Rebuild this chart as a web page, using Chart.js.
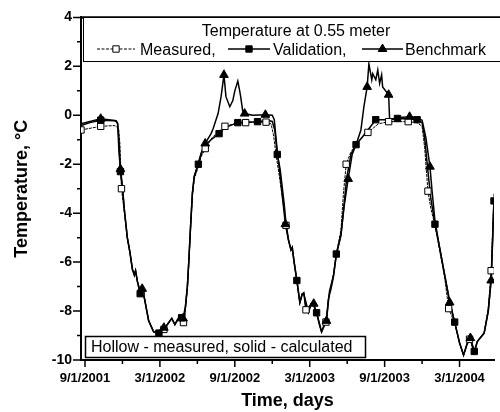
<!DOCTYPE html>
<html>
<head>
<meta charset="utf-8">
<script src="https://cdn.jsdelivr.net/npm/chart.js@4.4.1/dist/chart.umd.min.js"></script>
<style>
  html, body { margin: 0; padding: 0; background: #fff; overflow: hidden; }
  canvas { display: block; }
</style>
</head>
<body>
<canvas id="chart" width="500" height="412"></canvas>
<script>
// x values are months counted from 9/1/2001, y values are degrees C
const tickMonths = [0, 6, 12, 18, 24, 30];
const tickDates = ["9/1/2001", "3/1/2002", "9/1/2002", "3/1/2003", "9/1/2003", "3/1/2004"];
const tempTicks = [-10, -8, -6, -4, -2, 0, 2, 4];

// measured (hollow squares)
const measuredMonths = [2.4, 2.7, 2.8, 3.16, 3.39, 3.6, 3.8, 3.95, 4.05, 4.2, 4.75, 5.1, 5.5, 5.92, 6.6, 6.95, 7.2, 7.5, 8.05, 8.2, 8.3, 8.45, 8.6, 8.75, 9.08, 9.3, 10.2, 12.0, 14.9, 15.1, 15.3, 15.6, 15.9, 16.3, 16.5, 16.6, 16.75, 16.97, 17.21, 17.4, 17.53, 17.9, 18.1, 18.3, 18.55, 18.95, 19.5, 19.9, 20.13, 20.5, 20.7, 21.3, 21.9, 23.5, 26.6, 27.0, 27.2, 27.7, 28.03, 28.4, 28.8, 29.61, 30.0, 30.32, 30.6, 31.18, 31.42, 31.97, 32.3, 32.76];
const measuredTemp = [-0.42, -0.55, -1.2, -4.0, -5.0, -5.6, -6.3, -6.5, -6.35, -6.8, -7.45, -8.4, -8.85, -8.95, -8.55, -8.3, -8.55, -8.3, -7.9, -7.1, -6.2, -4.7, -3.3, -2.6, -2.1, -1.7, -0.9, -0.35, -0.35, -0.8, -1.6, -2.6, -3.7, -5.1, -5.5, -5.45, -6.0, -6.8, -7.65, -7.3, -7.3, -8.05, -7.7, -7.75, -8.1, -8.85, -7.5, -6.5, -5.65, -4.7, -3.2, -1.5, -1.05, -0.35, -0.3, -0.45, -1.3, -3.8, -4.5, -5.5, -6.6, -8.5, -9.3, -9.8, -9.35, -9.7, -9.25, -8.9, -7.9, -3.2];
const measuredMarkMonths = [-0.32, 1.26, 2.92, 4.5, 6.32, 7.89, 9.63, 11.21, 12.87, 14.5, 16.1, 17.7, 19.3, 20.92, 22.66, 24.32, 25.89, 27.47, 29.13, 30.8, 32.53];
const measuredMarkTemp = [-0.6, -0.45, -3.0, -7.25, -8.75, -8.47, -1.36, -0.45, -0.3, -0.28, -4.5, -7.95, -8.45, -2.0, -0.7, -0.26, -0.26, -3.1, -7.9, -9.15, -6.35];

// validation (solid squares)
const validationMonths = [-0.32, 0.4, 2.4, 2.6, 2.72, 3.0, 3.16, 3.39, 3.6, 3.8, 3.95, 4.05, 4.2, 4.58, 4.75, 5.1, 5.5, 6.3, 6.6, 6.8, 6.95, 7.2, 7.4, 7.6, 7.95, 8.05, 8.2, 8.3, 8.45, 8.6, 8.75, 9.3, 9.55, 10.1, 11.2, 13.0, 14.6, 15.0, 15.2, 15.63, 15.95, 16.1, 16.3, 16.5, 16.6, 16.75, 17.21, 17.4, 17.53, 17.9, 18.1, 18.3, 18.8, 18.95, 19.2, 19.34, 19.5, 19.7, 19.9, 20.5, 20.76, 20.95, 21.3, 22.2, 22.66, 24.3, 26.0, 27.0, 27.2, 27.47, 27.7, 28.4, 28.8, 29.21, 30.0, 30.32, 30.6, 30.87, 31.42, 31.97, 32.3, 32.55];
const validationTemp = [-0.42, -0.3, -0.22, -0.3, -1.0, -3.0, -3.9, -5.0, -5.6, -6.3, -6.55, -6.35, -6.8, -7.1, -7.45, -8.4, -8.85, -8.7, -8.55, -8.4, -8.3, -8.55, -8.35, -8.2, -8.35, -7.8, -7.0, -6.1, -4.6, -3.2, -2.5, -1.6, -1.25, -1.0, -0.5, -0.27, -0.2, -0.25, -0.6, -2.2, -3.6, -4.4, -5.1, -5.5, -5.4, -6.0, -7.65, -7.3, -7.3, -8.05, -7.7, -7.75, -8.6, -8.85, -8.5, -8.35, -7.5, -7.1, -6.6, -4.9, -3.6, -2.6, -1.6, -0.9, -0.6, -0.18, -0.15, -0.3, -0.9, -2.3, -3.4, -5.4, -6.5, -7.6, -9.3, -9.8, -9.35, -9.1, -9.25, -8.9, -8.0, -6.6];
const validationMarkMonths = [1.26, 2.84, 4.42, 5.92, 7.74, 9.08, 10.74, 12.24, 13.82, 15.4, 16.97, 18.55, 20.13, 21.71, 23.29, 25.03, 26.6, 28.03, 29.61, 31.18, 32.76];
const validationMarkTemp = [-0.2, -2.3, -7.29, -8.9, -8.27, -2.0, -0.75, -0.3, -0.26, -1.6, -6.75, -8.07, -5.67, -1.2, -0.18, -0.13, -0.18, -4.45, -8.45, -9.65, -3.5];

// benchmark (solid triangles)
const benchmarkMonths = [-0.32, 2.5, 2.62, 2.72, 3.0, 3.16, 3.39, 3.6, 3.8, 3.95, 4.05, 4.2, 4.4, 4.75, 5.1, 5.5, 5.92, 6.6, 6.95, 7.2, 7.5, 8.05, 8.2, 8.3, 8.45, 8.6, 8.75, 9.08, 9.3, 10.1, 10.26, 10.66, 10.9, 11.29, 11.6, 11.84, 12.0, 12.24, 12.39, 12.47, 12.63, 13.42, 15.0, 15.16, 15.39, 15.7, 16.3, 16.5, 16.6, 16.75, 16.97, 17.21, 17.4, 17.53, 17.68, 17.9, 18.1, 18.55, 18.95, 19.58, 19.9, 20.13, 20.5, 20.76, 21.4, 21.71, 22.1, 22.34, 22.74, 22.97, 23.05, 23.29, 23.45, 23.6, 23.76, 23.84, 24.4, 25.0, 26.6, 27.0, 27.3, 27.8, 28.03, 28.4, 28.8, 29.61, 30.0, 30.32, 30.6, 31.18, 31.42, 31.97, 32.3, 32.76];
const benchmarkTemp = [-0.35, -0.22, -0.35, -1.5, -2.9, -3.9, -5.0, -5.6, -6.3, -6.5, -6.35, -6.8, -7.2, -7.45, -8.4, -8.85, -8.9, -8.55, -8.3, -8.55, -8.3, -7.8, -7.0, -6.1, -4.6, -3.2, -2.5, -1.95, -1.55, -0.75, -0.55, 0.07, 0.76, 0.76, 0.35, 0.6, 1.0, 1.4, 1.0, 0.76, 0.18, 0.0, 0.0, -0.18, -1.4, -2.8, -5.1, -5.5, -5.4, -6.0, -6.75, -7.65, -7.3, -7.25, -7.9, -8.05, -7.7, -8.07, -8.85, -7.2, -6.55, -5.7, -4.9, -3.7, -1.6, -1.2, -0.6, 0.35, 2.1, 1.45, 1.7, 1.45, 1.85, 1.3, 1.65, 1.16, -0.18, -0.1, -0.1, -0.2, -0.9, -3.1, -4.3, -5.4, -6.5, -8.45, -9.3, -9.8, -9.35, -9.7, -9.25, -8.9, -8.0, -3.4];
const benchmarkMarkMonths = [1.26, 2.84, 4.58, 6.32, 7.85, 9.63, 11.13, 12.79, 14.45, 16.05, 18.32, 19.34, 21.08, 22.6, 24.32, 26.0, 27.63, 29.21, 30.87, 32.53];
const benchmarkMarkTemp = [-0.14, -2.2, -7.09, -8.68, -8.3, -1.15, 1.65, 0.07, 0.02, -4.45, -7.7, -8.4, -2.6, 1.16, 0.84, -0.06, -2.1, -7.65, -9.1, -6.75];

const FONT = "'Liberation Sans', Arial, sans-serif";

function points(xs, ys) {
  return xs.map((x, i) => ({ x: x, y: ys[i] }));
}

// the curve passes through its marker points too
function curve(xs, ys, mxs, mys) {
  return points(xs, ys).concat(points(mxs, mys)).sort((a, b) => a.x - b.x);
}

function lineSet(data, width, dash) {
  return {
    data: data, showLine: true, borderColor: "#000", borderWidth: width, borderDash: dash || [],
    pointRadius: 0, tension: 0, fill: false, order: 2
  };
}

function markSet(data, style, fill, radius) {
  return {
    data: data, showLine: false, pointStyle: style, pointRadius: radius,
    pointBackgroundColor: fill, pointBorderColor: "#000", pointBorderWidth: 1, order: 1
  };
}

function drawSample(ctx, x1, x2, yy, style, fill, dash) {
  ctx.save();
  ctx.strokeStyle = "#000";
  ctx.lineWidth = dash ? 1 : 1.5;
  ctx.setLineDash(dash || []);
  ctx.beginPath();
  ctx.moveTo(x1, yy);
  ctx.lineTo(x2, yy);
  ctx.stroke();
  ctx.setLineDash([]);
  ctx.fillStyle = fill;
  ctx.lineWidth = 1;
  Chart.helpers.drawPoint(ctx, { pointStyle: style, radius: style === "triangle" ? 5 : 4.5, borderWidth: 1 }, (x1 + x2) / 2, yy);
  ctx.restore();
}

const frame = {
  id: "frame",
  afterDatasetsDraw(chart) {
    const { ctx, chartArea: a, scales: { x, y } } = chart;
    ctx.save();
    ctx.strokeStyle = "#000";

    // top edge of the plot
    ctx.lineWidth = 2.5;
    ctx.beginPath();
    ctx.moveTo(a.left - 1, a.top);
    ctx.lineTo(chart.width, a.top);
    ctx.stroke();

    // tick marks, long on labelled values, short in between
    ctx.lineWidth = 1.5;
    ctx.beginPath();
    for (let v = -10; v <= 4; v++) {
      const py = y.getPixelForValue(v);
      ctx.moveTo(a.left, py);
      ctx.lineTo(a.left - (v % 2 === 0 ? 8 : 4), py);
    }
    for (let m = 0; m <= 33; m += 3) {
      if (m > x.max) break;
      const px = x.getPixelForValue(m);
      ctx.moveTo(px, a.bottom);
      ctx.lineTo(px, a.bottom + (m % 6 === 0 ? 7 : 4));
    }
    ctx.stroke();

    // legend box
    ctx.fillStyle = "#fff";
    ctx.fillRect(83, 17, 420, 44);
    ctx.lineWidth = 1;
    ctx.strokeRect(83.5, 17.5, 420, 44);
    ctx.fillStyle = "#000";
    ctx.font = "16px " + FONT;
    ctx.textBaseline = "alphabetic";
    ctx.textAlign = "center";
    ctx.fillText("Temperature at 0.55 meter", 296, 36);
    ctx.textAlign = "left";
    drawSample(ctx, 97, 135, 49, "rect", "#fff", [3, 1.5]);
    ctx.fillText("Measured,", 140, 55);
    drawSample(ctx, 228, 270, 49, "rect", "#000");
    ctx.fillText("Validation,", 273, 55);
    drawSample(ctx, 362, 403, 49, "triangle", "#000");
    ctx.fillText("Benchmark", 405, 55);

    // note box
    ctx.fillStyle = "#fff";
    ctx.fillRect(85, 336, 280, 21);
    ctx.lineWidth = 1.5;
    ctx.strokeRect(85.5, 336.5, 280, 21);
    ctx.fillStyle = "#000";
    ctx.fillText("Hollow - measured, solid - calculated", 91, 352);

    ctx.restore();
  }
};

new Chart(document.getElementById("chart"), {
  type: "scatter",
  data: {
    datasets: [
      lineSet(curve(measuredMonths, measuredTemp, measuredMarkMonths, measuredMarkTemp), 1, [3, 1]),
      lineSet(curve(validationMonths, validationTemp, validationMarkMonths, validationMarkTemp), 1.5),
      lineSet(curve(benchmarkMonths, benchmarkTemp, benchmarkMarkMonths, benchmarkMarkTemp), 1.5),
      markSet(points(benchmarkMarkMonths, benchmarkMarkTemp), "triangle", "#000", 5),
      markSet(points(validationMarkMonths, validationMarkTemp), "rect", "#000", 4.5),
      markSet(points(measuredMarkMonths, measuredMarkTemp), "rect", "#fff", 4.5)
    ]
  },
  options: {
    responsive: false,
    animation: false,
    layout: { padding: { top: 15, right: 0, left: 0, bottom: 0 } },
    plugins: { legend: { display: false }, tooltip: { enabled: false } },
    scales: {
      x: {
        type: "linear",
        min: -0.32,
        max: 32.76,
        afterFit: s => { s.height = 52; },
        afterBuildTicks: s => { s.ticks = tickMonths.map(v => ({ value: v })); },
        grid: { display: false, drawTicks: false },
        border: { display: true, color: "#000", width: 2 },
        ticks: {
          callback: v => tickDates[tickMonths.indexOf(v)],
          color: "#000",
          font: { family: FONT, size: 13, weight: "bold" },
          padding: 11,
          maxRotation: 0,
          autoSkip: false
        },
        title: {
          display: true,
          text: "Time, days",
          color: "#000",
          font: { family: FONT, size: 18, weight: "bold" },
          padding: { top: 0, bottom: 0 }
        }
      },
      y: {
        type: "linear",
        min: -10,
        max: 4,
        afterFit: s => { s.width = 81; },
        afterBuildTicks: s => { s.ticks = tempTicks.map(v => ({ value: v })); },
        grid: { display: false, drawTicks: false },
        border: { display: true, color: "#000", width: 2 },
        ticks: {
          color: "#000",
          font: { family: FONT, size: 14, weight: "bold" },
          padding: 9
        },
        title: {
          display: true,
          text: "Temperature, \u00B0C",
          color: "#000",
          font: { family: FONT, size: 18, weight: "bold" },
          padding: { top: 11, bottom: 0 }
        }
      }
    }
  },
  plugins: [frame]
});
</script>
</body>
</html>
